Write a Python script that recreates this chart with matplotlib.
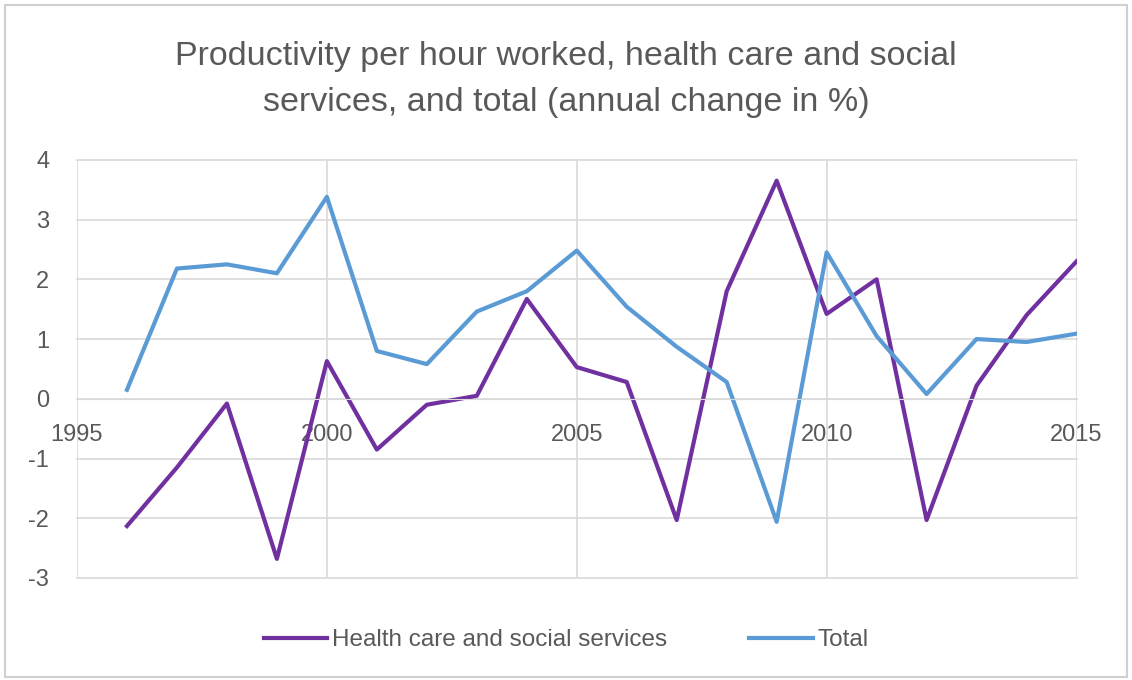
import matplotlib
matplotlib.use("Agg")
import matplotlib.pyplot as plt
from matplotlib.patches import Rectangle

years = list(range(1996, 2016))
health = [-2.13, -1.15, -0.08, -2.68, 0.63, -0.85, -0.10, 0.05, 1.67, 0.53,
          0.28, -2.03, 1.80, 3.65, 1.42, 2.00, -2.03, 0.22, 1.40, 2.30]
total = [0.15, 2.18, 2.25, 2.10, 3.38, 0.80, 0.58, 1.46, 1.80, 2.48,
         1.54, 0.87, 0.28, -2.06, 2.45, 1.05, 0.08, 1.00, 0.95, 1.09]
x_ticks = [1995, 2000, 2005, 2010, 2015]
y_ticks = [-3, -2, -1, 0, 1, 2, 3, 4]
title = "Productivity per hour worked, health care and social\nservices, and total (annual change in %)"

TEXT = "#595959"
GRID = "#d9d9d9"

plt.rcParams["font.family"] = ["Liberation Sans", "DejaVu Sans"]
plt.rcParams["axes.unicode_minus"] = False

fig = plt.figure(figsize=(11.32, 6.8), dpi=100)
fig.patches.append(Rectangle((0.004, 0.004), 0.992, 0.988, transform=fig.transFigure,
                             fill=False, edgecolor="#d0d0d0", linewidth=1.5))

ax = fig.add_axes([0.068, 0.15, 0.883, 0.615])
ax.plot(years, health, color="#7030A0", linewidth=3, label="Health care and social services")
ax.plot(years, total, color="#5B9BD5", linewidth=3, label="Total")

ax.set_xlim(1995, 2015)
ax.set_ylim(-3, 4)
ax.set_xticks(x_ticks)
ax.set_yticks(y_ticks)
ax.grid(True, color=GRID, linewidth=1.2)
ax.set_axisbelow(True)
for line in ax.get_xgridlines() + ax.get_ygridlines():
    line.set_clip_on(False)

for side in ["top", "right", "left"]:
    ax.spines[side].set_visible(False)
ax.spines["bottom"].set_position(("data", 0))
ax.spines["bottom"].set_color(GRID)
ax.tick_params(axis="both", length=0, labelsize=17, labelcolor=TEXT)
ax.tick_params(axis="x", pad=18)
ax.tick_params(axis="y", pad=20)

fig.suptitle(title, y=0.94, fontsize=24.5, color=TEXT, linespacing=1.65)

fig.legend(loc="lower center", bbox_to_anchor=(0.5, 0.01), ncol=2, frameon=False,
           fontsize=17.5, labelcolor=TEXT, handlelength=2.6, handletextpad=0.2,
           columnspacing=3.4)

fig.savefig("out.png", dpi=100)
